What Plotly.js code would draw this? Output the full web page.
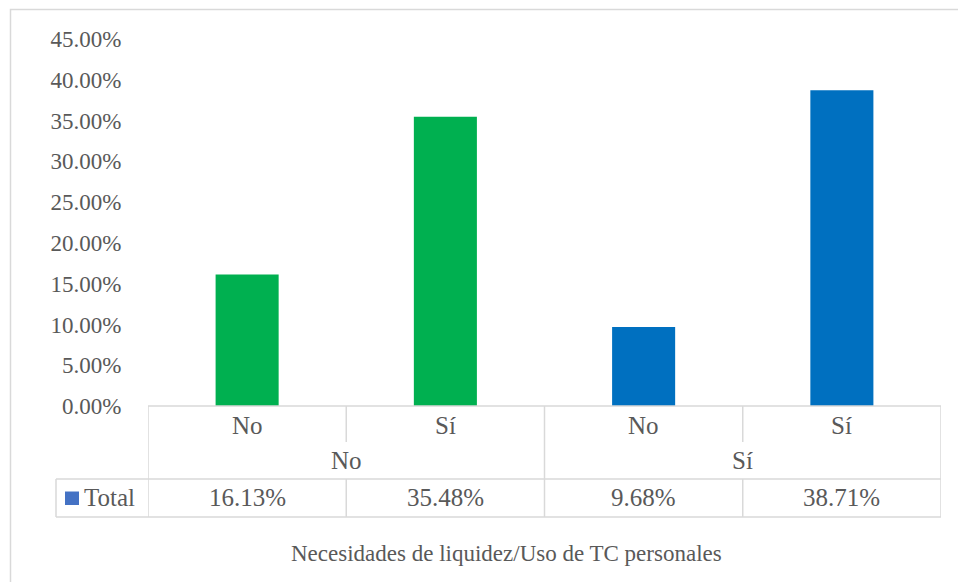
<!DOCTYPE html>
<html>
<head>
<meta charset="utf-8">
<script src="https://cdn.plot.ly/plotly-3.0.1.min.js"></script>
<style>html,body{margin:0;padding:0;background:#fff;}#chart{width:958px;height:582px;}</style>
</head>
<body>
<div id="chart"></div>
<script>
// ---- data ----
const outerCategories = ['No', 'No', 'Sí', 'Sí'];
const innerCategories = ['No', 'Sí', 'No', 'Sí'];
const totalValues = [16.13, 35.48, 9.68, 38.71];
const barColors = ['#00B050', '#00B050', '#0070C0', '#0070C0'];
const seriesName = 'Total';
const yTickValues = [0, 5, 10, 15, 20, 25, 30, 35, 40, 45];
const axisTitle = 'Necesidades de liquidez/Uso de TC personales';

// ---- layout geometry (pixels) ----
const L = 148, R = 941, T = 39, B = 406;
const W = R - L, H = B - T;
const px = p => (p - L) / W;
const py = p => (B - p) / H;
const FONT = '"Liberation Serif", "Times New Roman", serif';
const TXT = '#595959';
const GRID = '#D9D9D9';

const idx = totalValues.map((_, i) => i);

const trace = {
  type: 'bar',
  x: idx,
  y: totalValues,
  marker: {color: barColors},
  name: seriesName,
  hoverinfo: 'skip'
};

const shapes = [];
function hline(y, x0, x1) {
  shapes.push({type: 'line', xref: 'paper', yref: 'paper', x0: px(x0), x1: px(x1), y0: py(y), y1: py(y), line: {color: GRID, width: 1.5}});
}
function vline(xd, y0, y1) {
  shapes.push({type: 'line', xref: 'x', yref: 'paper', x0: xd, x1: xd, y0: py(y0), y1: py(y1), line: {color: GRID, width: 1.5}});
}
function vlinePx(x, y0, y1) {
  shapes.push({type: 'line', xref: 'paper', yref: 'paper', x0: px(x), x1: px(x), y0: py(y0), y1: py(y1), line: {color: GRID, width: 1.5}});
}
hline(406, 148, 941);
hline(479, 56, 941);
hline(517, 56, 941);
vlinePx(56, 479, 517);
const n = idx.length;
for (let k = 0; k <= n; k++) {
  const xd = k - 0.5;
  const isGroupEdge = (k === 0 || k === n || outerCategories[k] !== outerCategories[k - 1]);
  if (isGroupEdge) {
    vline(xd, 406, 517);
  } else {
    vline(xd, 406, 442);
    vline(xd, 479, 517);
  }
}
shapes.push({type: 'rect', xref: 'paper', yref: 'paper', x0: px(10.5), x1: px(970), y0: py(9.5), y1: py(600), line: {color: GRID, width: 1.5}, fillcolor: 'rgba(0,0,0,0)', layer: 'below'});
shapes.push({type: 'rect', xref: 'paper', yref: 'paper', x0: px(65), x1: px(79), y0: py(491.5), y1: py(505), line: {width: 0}, fillcolor: '#4472C4'});

const annotations = [];
const fTable = {family: FONT, size: 25, color: TXT};
const fTick = {family: FONT, size: 23, color: TXT};
const fTitle = {family: FONT, size: 23, color: TXT};
idx.forEach(i => {
  annotations.push({xref: 'x', yref: 'paper', x: i, y: py(425), text: innerCategories[i], showarrow: false, xanchor: 'center', yanchor: 'middle', font: fTable});
  annotations.push({xref: 'x', yref: 'paper', x: i, y: py(497), text: totalValues[i].toFixed(2) + '%', showarrow: false, xanchor: 'center', yanchor: 'middle', font: fTable});
});
const groups = [];
outerCategories.forEach((g, i) => {
  if (!groups.length || groups[groups.length - 1].name !== g) groups.push({name: g, start: i, end: i});
  else groups[groups.length - 1].end = i;
});
groups.forEach(g => {
  annotations.push({xref: 'x', yref: 'paper', x: (g.start + g.end) / 2, y: py(461), text: g.name, showarrow: false, xanchor: 'center', yanchor: 'middle', font: fTable});
});
annotations.push({xref: 'paper', yref: 'paper', x: px(82), y: py(497), text: seriesName, showarrow: false, xanchor: 'left', yanchor: 'middle', font: fTable});
annotations.push({xref: 'paper', yref: 'paper', x: px(506), y: py(553), text: axisTitle, showarrow: false, xanchor: 'center', yanchor: 'middle', font: fTitle});

const layout = {
  width: 958, height: 582,
  margin: {l: L, r: 958 - R, t: T, b: 582 - B, pad: 0},
  paper_bgcolor: '#fff', plot_bgcolor: '#fff',
  font: {family: FONT, color: TXT},
  showlegend: false,
  bargap: 0.682,
  xaxis: {range: [-0.5, n - 0.5], showticklabels: false, showgrid: false, zeroline: false, showline: false, ticks: '', fixedrange: true},
  yaxis: {range: [0, 45], tickvals: yTickValues, ticktext: yTickValues.map(v => v.toFixed(2) + '%'), showgrid: false, zeroline: false, showline: false,
          ticks: 'outside', ticklen: 21, tickcolor: 'rgba(0,0,0,0)', tickfont: fTick, fixedrange: true},
  shapes: shapes,
  annotations: annotations
};

Plotly.newPlot('chart', [trace], layout, {displayModeBar: false, staticPlot: true});
</script>
</body>
</html>
